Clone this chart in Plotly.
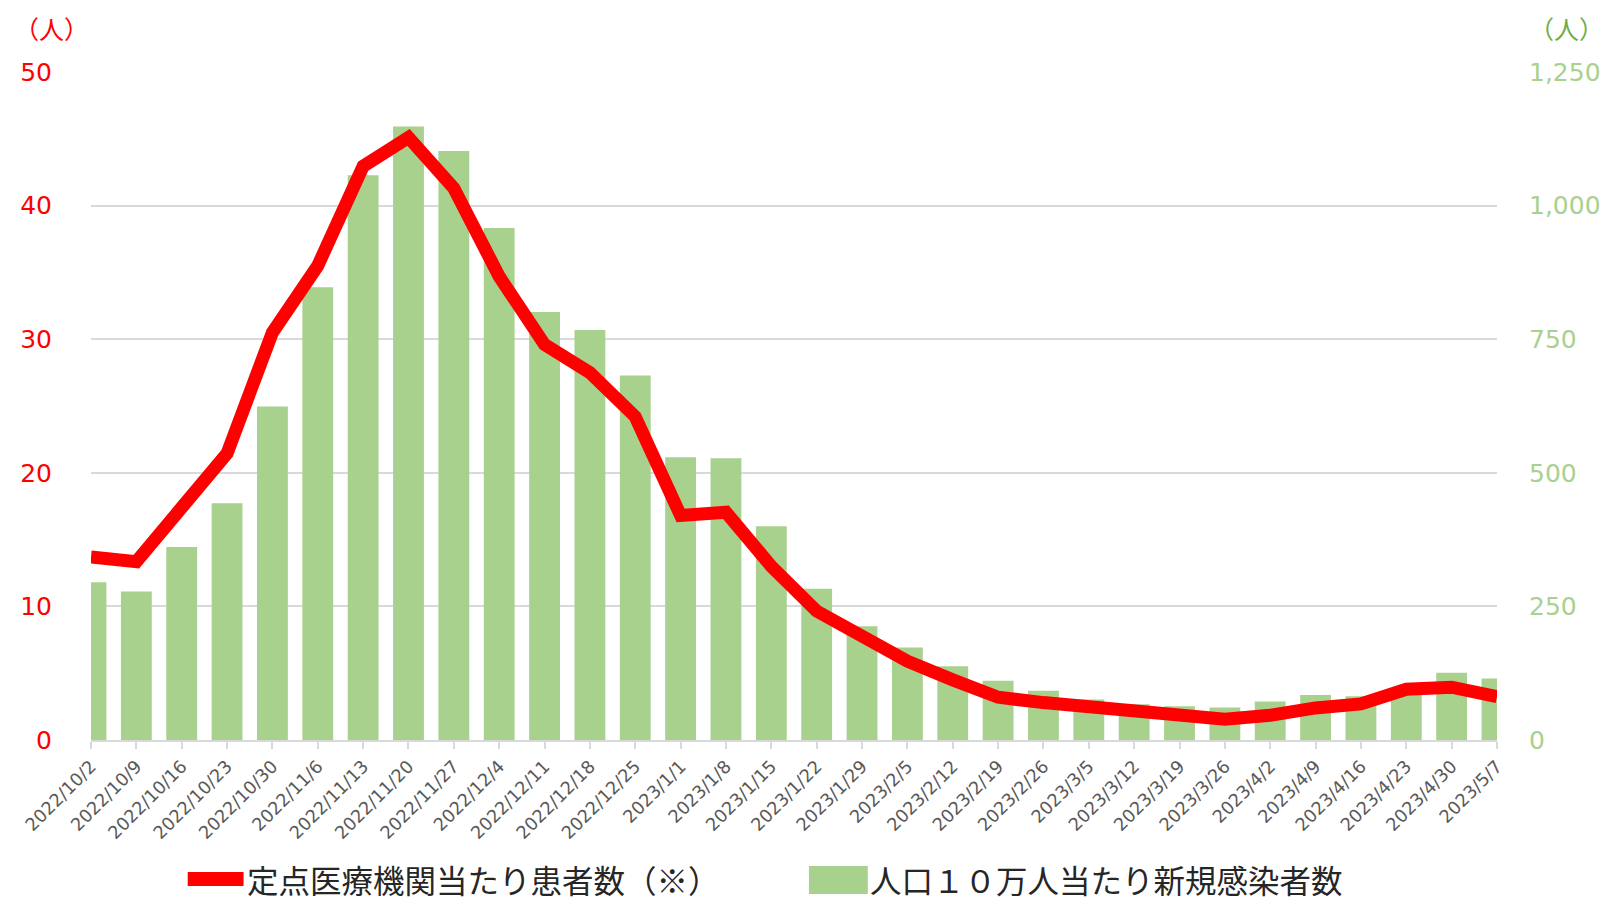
import plotly.graph_objects as go

dates = ["2022/10/2", "2022/10/9", "2022/10/16", "2022/10/23", "2022/10/30",
         "2022/11/6", "2022/11/13", "2022/11/20", "2022/11/27", "2022/12/4",
         "2022/12/11", "2022/12/18", "2022/12/25", "2023/1/1", "2023/1/8",
         "2023/1/15", "2023/1/22", "2023/1/29", "2023/2/5", "2023/2/12",
         "2023/2/19", "2023/2/26", "2023/3/5", "2023/3/12", "2023/3/19",
         "2023/3/26", "2023/4/2", "2023/4/9", "2023/4/16", "2023/4/23",
         "2023/4/30", "2023/5/7"]

# 人口10万人当たり新規感染者数 (right axis)
new_cases_per_100k = [295, 278, 361, 443, 624, 847, 1057, 1148, 1102, 958,
                      801, 767, 682, 529, 527, 400, 283, 213, 173, 138,
                      111, 92, 76, 67, 63, 61, 72, 84, 82, 94, 126, 115]

# 定点医療機関当たり患者数 (left axis)
sentinel_patients = [13.7, 13.35, 17.4, 21.45, 30.5, 35.5, 42.95, 45.1, 41.3, 34.7,
                     29.6, 27.5, 24.2, 16.8, 17.05, 13.0, 9.65, 7.7, 5.9, 4.5,
                     3.2, 2.8, 2.5, 2.1, 1.85, 1.55, 1.85, 2.4, 2.7, 3.8,
                     3.95, 3.25]

left_ticks = [0, 10, 20, 30, 40, 50]
right_ticks = [0, 250, 500, 750, 1000, 1250]

legend_line = "定点医療機関当たり患者数（※）"
legend_bar = "人口１０万人当たり新規感染者数"
unit = "（人）"

RED = "#FF0000"
GREEN = "#A9D18E"
GREEN_DARK = "#70AD47"
GRID = "#D9D9D9"
CJK = "Noto Sans CJK JP"
NUM = "DejaVu Sans"

fig = go.Figure()
fig.add_trace(go.Bar(
    x=dates, y=new_cases_per_100k, name=legend_bar,
    marker=dict(color=GREEN, line=dict(width=0)),
    cliponaxis=False, yaxis="y", showlegend=False,
))
fig.add_trace(go.Scatter(
    x=dates, y=sentinel_patients, name=legend_line, mode="lines",
    line=dict(color=RED, width=13), yaxis="y2", showlegend=False,
))

# the page body adds an 8px offset; layout numbers below are in page pixels
OFF = 8
W, H = 1617, 904
PLOT_L, PLOT_R, PLOT_T, PLOT_B = 87, 1497, 72, 740   # page pixels
L = PLOT_L - OFF
T = PLOT_T - OFF
R = W - (PLOT_R - OFF)
B = H - (PLOT_B - OFF)
pw = PLOT_R - PLOT_L
ph = PLOT_B - PLOT_T


def px(xpage):
    return (xpage - PLOT_L) / pw


def py(ypage):
    return (PLOT_B - ypage) / ph


fig.update_layout(
    width=W, height=H,
    margin=dict(l=L, r=R, t=T, b=B),
    paper_bgcolor="white", plot_bgcolor="white",
    font=dict(family=CJK),
    bargap=0.32,
    xaxis=dict(
        type="category", categoryorder="array", categoryarray=dates,
        range=[0, len(dates) - 1],
        tickangle=-45, tickfont=dict(size=17.8, color="#595959", family=NUM),
        showline=True, linecolor=GRID, linewidth=2,
        ticks="outside", ticklen=7, tickcolor=GRID, tickwidth=2,
        showgrid=False, zeroline=False,
    ),
    yaxis=dict(
        side="right", range=[0, 1250], tickvals=right_ticks,
        tickformat=",d", tickfont=dict(size=25, color=GREEN, family=NUM),
        showgrid=True, gridcolor=GRID, gridwidth=2, zeroline=False,
        ticks="", ticklabelstandoff=31,
    ),
    yaxis2=dict(
        overlaying="y", side="left", range=[0, 50], tickvals=left_ticks,
        tickfont=dict(size=25, color=RED, family=NUM),
        showgrid=False, zeroline=False, ticks="", ticklabelstandoff=38,
    ),
)

# unit labels (kept inside the figure edges)
fig.add_annotation(text=unit, x=px(OFF), y=py(OFF), xref="paper", yref="paper",
                   xanchor="left", yanchor="top", showarrow=False,
                   font=dict(size=25, color=RED, family=CJK))
fig.add_annotation(text=unit, x=px(1527), y=py(OFF), xref="paper", yref="paper",
                   xanchor="left", yanchor="top", showarrow=False,
                   font=dict(size=25, color=GREEN_DARK, family=CJK))

# custom legend (kept fully inside the visible page)
ly = 879
fig.add_shape(type="line", xref="paper", yref="paper",
              x0=px(184), x1=px(240), y0=py(ly), y1=py(ly),
              line=dict(color=RED, width=14))
fig.add_annotation(text=legend_line, x=px(241), y=py(ly), xref="paper", yref="paper",
                   xanchor="left", yanchor="middle", showarrow=False,
                   font=dict(size=31.5, color="#262626", family=CJK))
fig.add_shape(type="rect", xref="paper", yref="paper",
              x0=px(807), x1=px(866), y0=py(866), y1=py(894),
              line=dict(width=0), fillcolor=GREEN)
fig.add_annotation(text=legend_bar, x=px(866), y=py(ly), xref="paper", yref="paper",
                   xanchor="left", yanchor="middle", showarrow=False,
                   font=dict(size=31.5, color="#262626", family=CJK))

fig.write_html("out.html")
